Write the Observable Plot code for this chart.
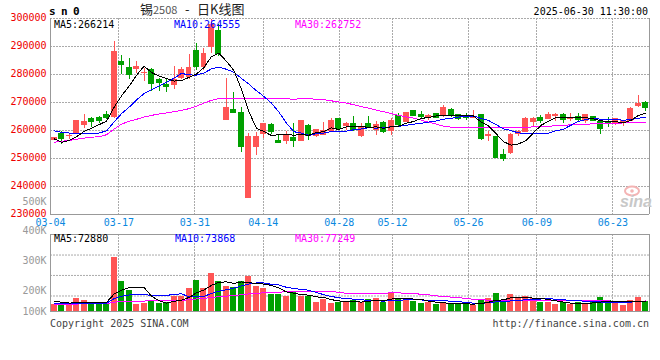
<!DOCTYPE html>
<html>
<head>
<meta charset="utf-8">
<script src="https://cdn.jsdelivr.net/npm/d3@7"></script>
<script src="https://cdn.jsdelivr.net/npm/@observablehq/plot@0.6"></script>
<style>
  html, body { margin: 0; padding: 0; background: #fff; }
  #chart { position: relative; width: 660px; height: 360px; overflow: hidden; background: #fff; }
  #chart svg { position: absolute; left: 0; top: 0; }
</style>
</head>
<body>
<div id="chart"></div>
<script>
// ---------- data ----------
const days = [
  "03-04","03-05","03-06","03-07","03-10","03-11","03-12","03-13","03-14","03-17",
  "03-18","03-19","03-20","03-21","03-24","03-25","03-26","03-27","03-28","03-31",
  "04-01","04-02","04-03","04-07","04-08","04-09","04-10","04-11","04-14","04-15",
  "04-16","04-17","04-18","04-21","04-22","04-23","04-24","04-25","04-28","04-29",
  "04-30","05-06","05-07","05-08","05-09","05-12","05-13","05-14","05-15","05-16",
  "05-19","05-20","05-21","05-22","05-23","05-26","05-27","05-28","05-29","05-30",
  "06-03","06-04","06-05","06-06","06-09","06-10","06-11","06-12","06-13","06-16",
  "06-17","06-18","06-19","06-20","06-23","06-24","06-25","06-26","06-27","06-30"];
const open = [
  256600,258600,257900,258900,261900,264100,264300,265700,264900,284300,
  282200,282000,280500,281600,278000,276400,276200,278600,279200,288300,
  282800,289900,295500,263900,267500,266400,235900,254100,258900,261900,
  256300,256300,257200,256300,261500,258100,258300,259900,264000,261600,
  262300,258100,262300,260100,262700,259900,265100,263100,266900,265500,
  264300,265800,265100,267300,265500,264900,264500,265500,258000,257700,
  251200,252100,258700,259500,262900,264500,264100,265300,265500,264100,
  264900,263300,264700,263100,262900,262200,262900,263300,268600,269900];
const high = [
  257600,259500,259000,263600,265700,264800,265000,266700,291900,286900,
  285700,284500,282200,282200,278600,278600,282800,282400,287200,291100,
  289300,299800,298000,278600,273400,268100,258900,259200,262500,262500,
  258600,259500,262500,263700,262300,260400,262900,264300,264300,262700,
  265100,262400,265100,263300,263100,264300,266100,266600,267300,266900,
  265800,265900,269000,267900,265700,266100,267000,265800,259800,257700,
  253300,259000,260100,264800,264500,265200,266400,266000,266100,266000,
  266000,265600,264900,263300,264800,264300,263700,268100,272400,270500];
const low = [
  256400,255000,256800,258800,260700,261000,262500,264100,264300,280000,
  278300,280400,277400,273800,273800,273600,274800,278300,278300,281600,
  281600,287500,286500,263700,266000,252000,235900,251200,257200,258600,
  255300,255000,253900,256200,256500,257400,258100,259500,260100,260100,
  259800,257600,260700,258300,258900,258300,261300,262700,264900,264300,
  263700,264300,264500,264600,263700,263700,264300,256500,255900,250000,
  248800,251400,257700,259300,261000,262400,264000,263100,262500,263300,
  263100,262500,263100,258600,261000,261900,261300,263300,268100,266900];
const close = [
  257300,256900,258100,263300,262900,262900,263300,264500,288100,283300,
  280000,282800,280700,276600,277000,275700,278200,281600,282500,282800,
  287500,297600,287500,268200,266300,254100,257700,257700,262300,259300,
  255400,258300,256400,263400,258000,260100,259900,263300,260500,262500,
  260100,261100,261100,261900,259500,263300,261900,266300,265100,264900,
  265100,264600,267900,265100,264000,264300,264700,257000,258300,250200,
  250000,258300,259300,264000,264200,263300,265700,265700,263700,264500,
  263700,265500,263300,260500,262400,264100,263300,267600,269300,268100];
const volume = [
  54000,49000,54000,96000,81000,54000,54000,54000,399000,221000,
  152000,51000,61000,76000,57000,64000,113000,110000,171000,228000,
  171000,282000,223000,184000,176000,221000,260000,184000,167000,127000,
  127000,113000,138000,113000,110000,64000,90000,59000,68000,74000,
  81000,64000,88000,98000,68000,138000,88000,88000,74000,59000,
  68000,54000,64000,54000,54000,54000,44000,88000,98000,132000,
  64000,125000,93000,113000,93000,68000,68000,51000,68000,54000,
  68000,57000,68000,103000,81000,68000,44000,79000,103000,74000];
const ma5 = [
  257000,255800,256400,257800,259700,260820,262100,263380,268340,272420,
  275840,279740,282980,280680,279420,278560,277640,277820,279000,280160,
  282520,286400,287580,284720,281420,274740,266760,260800,259620,258220,
  258480,258600,258340,258560,258300,259240,259560,260940,260360,261260,
  261260,261500,261060,261340,260740,261380,261540,262580,263220,264300,
  264660,265200,265520,265520,265340,265180,265200,263020,261660,258900,
  256040,254760,255220,256360,259160,261820,263300,264580,264520,264580,
  264660,264620,264140,263500,263080,263160,262720,263600,265360,266214];
const ma10 = [
  259900,259300,259100,258900,258900,258900,259100,259900,263100,266060,
  268330,270920,273180,274510,275920,277200,278690,280400,279840,279790,
  280540,282020,282700,281860,280790,278630,276580,274190,272170,269820,
  266610,262680,259570,259090,258260,258860,259080,259640,259460,259780,
  260250,260530,261000,260850,261000,261320,261520,261820,262280,262520,
  263020,263370,264050,264370,264820,264920,265200,264270,263590,262120,
  260610,259980,259120,259010,259030,258930,259030,259900,260440,261870,
  263240,263960,264360,264010,263830,263910,263670,263860,264420,264555];
const ma30 = [
  255800,256200,256400,256900,257300,257600,257800,258500,260500,262300,
  263300,264000,264800,265400,265900,266300,266700,267200,267800,268700,
  269800,270800,271400,271500,271600,271500,271300,271300,271400,271400,
  271300,271300,271200,271300,271300,271200,271000,270600,270200,269800,
  269200,268500,268000,267300,266700,266100,265400,264900,264400,263700,
  263000,262300,261500,261200,261100,261100,261100,261100,261100,261100,
  261100,261100,261100,261100,261300,261400,261500,261700,261900,262000,
  262100,262200,262400,262500,262600,262600,262700,262700,262700,262752];
const vma5 = [
  75000,68000,62000,64000,66800,66800,67800,67800,128400,156400,
  176000,175400,176800,112200,79400,61800,74200,84000,103000,137200,
  158600,192400,215000,217600,207200,217200,212800,205000,201600,191800,
  173000,143600,134400,123600,120200,107600,103000,87200,78200,71000,
  74400,69200,75000,81000,79800,91200,96000,96000,91200,89400,
  75400,68600,63800,59800,58800,56000,54000,58800,67600,83200,
  85200,101400,102400,105400,97600,98400,87000,78600,69600,61800,
  61800,59600,63000,70000,75400,75400,72800,75000,75000,72880];
const vma10 = [
  60000,59000,59000,60000,61000,61000,61000,61000,95000,111600,
  121400,121600,122300,120300,117900,118900,124800,130400,107600,108300,
  110200,133300,149500,160300,172200,187900,202600,210000,209600,199500,
  195100,178200,169700,162600,156000,140300,123300,110800,100900,95600,
  91000,86100,81100,79600,75400,82800,82600,85500,86100,84600,
  83300,82300,79900,75500,74100,65700,61300,61300,63700,71000,
  70600,77700,80600,86500,90400,91800,94200,90500,87500,79700,
  80100,73300,70800,69800,68600,68600,66200,69000,72500,73868];
const vma30 = [
  53000,54000,55000,55000,56000,56000,56000,57000,68000,74000,
  77000,77000,77000,78000,78000,78000,80000,82000,86000,92000,
  96000,103000,109000,113000,117000,123000,129000,134000,137000,139800,
  142200,144400,147200,147700,148700,149000,150200,150400,139400,134500,
  132100,132500,133400,134200,134500,137000,136200,135400,132200,126600,
  123100,115500,110200,105900,101800,96300,89100,85900,83600,83700,
  81600,82000,80500,80500,80000,80100,79400,79100,79100,78400,
  78000,77800,77100,77300,77700,75400,73900,73600,74600,77249];
const priceTicks = [230000,240000,250000,260000,270000,280000,290000,300000];
const dateTicks = ["03-04","03-17","03-31","04-14","04-28","05-12","05-26","06-09","06-23"];
const volLabelTicks = [100000,200000,300000,400000,500000];
const volGrid = [114000,265000,415000];
const stamp = "2025-06-30 11:30:00";

// ---------- layout / style ----------
const W = 660, H = 360, L = 50, R = 649, PT = 18, PB = 214, VT = 234, VB = 311;
const UP = "#ff5555", DOWN = "#00a000", GRID = "#aaa", FRAME = "#999";
const MONO = "'DejaVu Sans Mono', monospace";
const rows = days.map((day, i) => ({
  i, day, open: open[i], high: high[i], low: low[i], close: close[i], vol: volume[i],
  ma5: ma5[i], ma10: ma10[i], ma30: ma30[i], vma5: vma5[i], vma10: vma10[i], vma30: vma30[i]
}));
const col = d => d.close >= d.open ? UP : DOWN;
const tickIdx = dateTicks.map(t => days.indexOf(t));
const base = {
  width: W, height: H, marginLeft: L, marginRight: W - R,
  style: `position:absolute;left:0;top:0;background:transparent;font-family:${MONO};font-size:10px;overflow:visible;`
};
const candleX = {domain: [-0.5, days.length - 0.5], range: [L, R], axis: null};
const slotX = {domain: [0, days.length], range: [L, L + 7.6 * days.length]}; // date-label slots
const priceY = {domain: [230000, 300000], range: [PB, PT]};
const volY = {domain: [0, 566000], range: [VB, VT], axis: null};
const dotted = {stroke: GRID, strokeDasharray: "2,1"};

const mainGrid = Plot.plot({
  ...base, marginTop: PT, marginBottom: H - PB, x: slotX, y: priceY,
  marks: [
    Plot.ruleY(priceTicks.filter(v => v > priceTicks[0]), dotted),
    Plot.ruleX(tickIdx, {...dotted, shapeRendering: "crispEdges"}),
    Plot.axisY(priceTicks, {tickSize: 0, tickPadding: 4, dy: -1, tickFormat: d => String(d), fill: "#e00", label: null}),
    Plot.axisX(tickIdx, {tickSize: 0, tickPadding: 4, tickFormat: d => days[d], fill: "#0a88e0", label: null})
  ]
});

const volGridPlot = Plot.plot({
  ...base, marginTop: VT, marginBottom: H - VB, x: {...slotX, axis: null}, y: volY,
  marks: [
    Plot.ruleY(volGrid, dotted),
    Plot.ruleX(tickIdx, {...dotted, shapeRendering: "crispEdges"})
  ]
});

const mainData = Plot.plot({
  ...base, marginTop: PT, marginBottom: H - PB, x: candleX, y: {...priceY, axis: null},
  color: {type: "identity"},
  marks: [
    Plot.ruleY([priceTicks[0]], {stroke: FRAME}),
    Plot.ruleX([-0.5, days.length - 0.5], {stroke: FRAME}),
    Plot.ruleX(rows, {x: "i", y1: "low", y2: "high", stroke: col, shapeRendering: "crispEdges"}),
    Plot.rect(rows, {x1: d => d.i - 0.33, x2: d => d.i + 0.33, y1: "open", y2: "close", fill: col, stroke: col, shapeRendering: "crispEdges"}),
    Plot.line(rows, {x: "i", y: "ma30", stroke: "#f0f", strokeWidth: 1, shapeRendering: "crispEdges"}),
    Plot.line(rows, {x: "i", y: "ma10", stroke: "#00f", strokeWidth: 1, shapeRendering: "crispEdges"}),
    Plot.line(rows, {x: "i", y: "ma5", stroke: "#000", strokeWidth: 1, shapeRendering: "crispEdges"})
  ]
});

const volData = Plot.plot({
  ...base, marginTop: VT, marginBottom: H - VB, x: candleX, y: volY,
  color: {type: "identity"},
  marks: [
    Plot.rect(rows, {x1: d => d.i - 0.4, x2: d => d.i + 0.4, y1: 0, y2: "vol", fill: col, shapeRendering: "crispEdges"}),
    Plot.frame({stroke: FRAME}),
    Plot.line(rows, {x: "i", y: "vma30", stroke: "#f0f", strokeWidth: 1, shapeRendering: "crispEdges"}),
    Plot.line(rows, {x: "i", y: "vma10", stroke: "#00f", strokeWidth: 1, shapeRendering: "crispEdges"}),
    Plot.line(rows, {x: "i", y: "vma5", stroke: "#000", strokeWidth: 1, shapeRendering: "crispEdges"})
  ]
});

// volume tick labels, spaced and clamped as in the reference
const volLabels = Plot.plot({
  ...base, marginTop: 0, marginBottom: 0,
  y: {domain: [130000, 500000], range: [311, 201], clamp: true},
  marks: [
    Plot.axisY(volLabelTicks, {tickSize: 0, tickPadding: 4, tickFormat: d => d / 1000 + "K", fill: "#999", label: null})
  ]
});

const chart = document.getElementById("chart");
[mainGrid, volGridPlot, mainData, volData, volLabels].forEach(p => chart.appendChild(p));

// ---------- header, legends, footer ----------
const svg = d3.select(chart).append("svg")
  .attr("width", W).attr("height", H)
  .style("font-family", MONO).style("font-size", "10px");
function label(x, y, text, attrs = {}) {
  const t = svg.append("text").attr("x", x).attr("y", y).text(text);
  for (const k in attrs) t.attr(k, attrs[k]);
  return t;
}
label(49, 15, "s n 0", {"font-weight": "bold", "font-size": 11, "letter-spacing": "-0.6"});
const title = svg.append("text").attr("y", 13.5).attr("fill", "#222")
  .style("font-family", "'Noto Sans CJK SC', sans-serif").style("font-size", "13px");
title.append("tspan").attr("x", 140).text("锡");
title.append("tspan").attr("x", 153).attr("fill", "#555").style("font-size", "11px").text("2508");
title.append("tspan").attr("x", 185).text("-");
title.append("tspan").attr("x", 197).text("日K线图");
label(648, 15, stamp, {"text-anchor": "end", fill: "#000"});

label(54, 27.5, "MA5:" + ma5[ma5.length - 1], {fill: "#000"});
label(174, 27.5, "MA10:" + ma10[ma10.length - 1], {fill: "#00f"});
label(295, 27.5, "MA30:" + ma30[ma30.length - 1], {fill: "#f0f"});

label(54, 242, "MA5:" + vma5[vma5.length - 1], {fill: "#000"});
label(175, 242, "MA10:" + vma10[vma10.length - 1], {fill: "#00f"});
label(295, 242, "MA30:" + vma30[vma30.length - 1], {fill: "#f0f"});

label(50, 327, "Copyright 2025 SINA.COM", {fill: "#444"});
label(649, 327, "http://finance.sina.com.cn", {"text-anchor": "end", fill: "#444"});

// sina watermark: eye logo (shape) + word
svg.append("ellipse").attr("cx", 632).attr("cy", 191).attr("rx", 7).attr("ry", 4.5)
  .attr("fill", "none").attr("stroke", "#f4b4b4").attr("stroke-width", 2);
svg.append("circle").attr("cx", 632).attr("cy", 191).attr("r", 1.8).attr("fill", "#f4b4b4");
label(620, 207, "sina", {fill: "#c8c8c8", "font-size": 16, "font-weight": "bold", "font-style": "italic", "font-family": "'Liberation Sans', sans-serif"});
</script>
</body>
</html>
